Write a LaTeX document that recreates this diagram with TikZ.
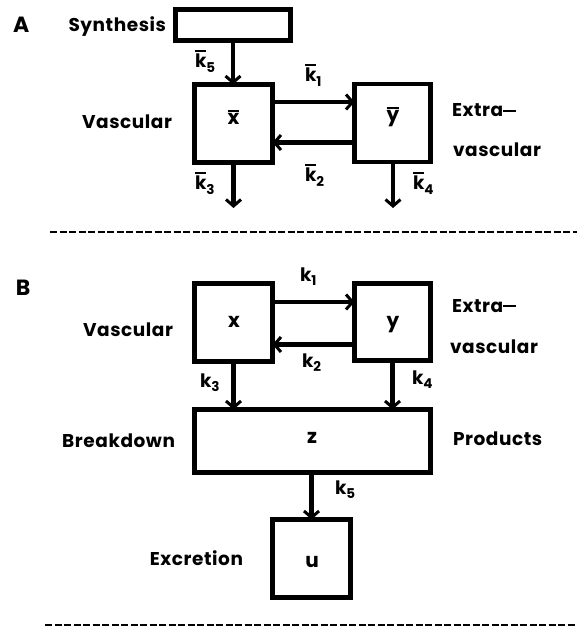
\documentclass[tikz,border=0pt]{standalone}
\usepackage{fontspec}
\setmainfont{Poppins}[LetterSpace=3]
\usetikzlibrary{arrows.meta}

% bar over a symbol
\newcommand\ovbar[1]{\vbox{\hrule height 2pt\kern 2.2pt\hbox{#1}}}
% rate constant with lowered index
\newcommand\rate[2]{#1\raisebox{-4.5pt}{\fontsize{13.5}{13.5}\selectfont #2}}

\begin{document}
\begin{tikzpicture}[x=1pt,y=-1pt,
  every node/.style={font=\fontsize{18.5}{21}\selectfont\bfseries, inner sep=0pt, outer sep=0pt},
  frame/.style={draw, line width=4.6pt},
  box/.style={frame, minimum width=78pt, minimum height=78pt},
  arr/.style={line width=4.2pt, -{Straight Barb[length=6.5pt,width=15pt,line width=3pt]}},
  sep/.style={line width=2.6pt, dash pattern=on 7pt off 2.5pt},
  panel/.style={font=\fontsize{22}{24}\selectfont\bfseries, anchor=base west},
  lbl/.style={anchor=base east},
  side/.style={anchor=base west},
  sym/.style={anchor=base, font=\fontsize{20}{22}\selectfont\bfseries}]
\useasboundingbox (0,0) rectangle (577,628);

% ---------------- A: with synthesis ----------------
\node[panel] (pA) at (13,33) {A};
\node[lbl] (tsyn) at (166,32) {Synthesis};
\node[frame, minimum width=115pt, minimum height=31pt] (syn) at (233,25) {};

\node[box] (xa) at (233.5,123.5) {};
\node[box, minimum width=76pt] (ya) at (392.5,123) {};
\node[sym] (xal) at (233.5,125) {\ovbar{x}};
\node[sym] (yal) at (393,122) {\ovbar{y}};

\node[lbl] (vasA) at (172,129) {Vascular};
\node[side] (exA1) at (452,117) {Extra\rule[0.28em]{0.7em}{1.8pt}};
\node[side] (exA2) at (453,157) {vascular};

\draw[arr] (syn.south) -- (syn.south |- xa.north);
\node[anchor=base west] (ka5) at (195,68) {\rate{\ovbar{k}}{5}};

\draw[arr] ([yshift=21.5pt]xa.east) -- ([yshift=21.5pt]xa.east -| ya.west);
\draw[arr] ([yshift=-19.5pt]ya.west) -- ([yshift=-19.5pt]ya.west -| xa.east);
\node[anchor=base west] (ka1) at (305,82) {\rate{\ovbar{k}}{1}};
\node[anchor=base west] (ka2) at (305,182) {\rate{\ovbar{k}}{2}};

\coordinate (outA3) at (233.5,208);
\coordinate (outA4) at (393,208);
\draw[arr] (xa.south) -- (outA3);
\draw[arr] (ya.south -| outA4) -- (outA4);
\node[anchor=base west] (ka3) at (195,190) {\rate{\ovbar{k}}{3}};
\node[anchor=base west] (ka4) at (413,190) {\rate{\ovbar{k}}{4}};

\coordinate (sepA1) at (50,232);
\coordinate (sepA2) at (577,232);
\draw[sep] (sepA1) -- (sepA2);

% ---------------- B: with breakdown and excretion ----------------
\node[panel] (pB) at (16,295) {B};

\node[box] (xb) at (233.5,322.5) {};
\node[box, minimum width=76pt, minimum height=77pt] (yb) at (392.5,322) {};
\node[sym] (xbl) at (234,327) {x};
\node[sym] (ybl) at (393,327) {y};

\node[lbl] (vasB) at (173,336) {Vascular};
\node[side] (exB1) at (452,312) {Extra\rule[0.28em]{0.7em}{1.8pt}};
\node[side] (exB2) at (450,353) {vascular};

\draw[arr] ([yshift=20.5pt]xb.east) -- ([yshift=20.5pt]xb.east -| yb.west);
\draw[arr] ([yshift=-22.5pt]yb.west) -- ([yshift=-22.5pt]yb.west -| xb.east);
\node[anchor=base west] (kb1) at (300,281) {\rate{k}{1}};
\node[anchor=base west] (kb2) at (302,367) {\rate{k}{2}};

\node[frame, minimum width=236pt, minimum height=63pt] (zb) at (312.5,441) {};
\node[sym] (zbl) at (312,443) {z};
\node[lbl] (brk) at (175,447) {Breakdown};
\node[side] (prd) at (453,445) {Products};

\draw[arr] (xb.south) -- (xb.south |- zb.north);
\draw[arr] (yb.south) -- (yb.south |- zb.north);
\node[anchor=base west] (kb3) at (200,387) {\rate{k}{3}};
\node[anchor=base west] (kb4) at (412,384) {\rate{k}{4}};

\node[box] (ub) at (311.5,558.5) {};
\node[sym] (ubl) at (312,567) {u};
\node[lbl] (exc) at (243,565) {Excretion};
\draw[arr] (ub.north |- zb.south) -- (ub.north);
\node[anchor=base west] (kb5) at (335,494) {\rate{k}{5}};

\coordinate (sepB1) at (45,625);
\coordinate (sepB2) at (577,625);
\draw[sep] (sepB1) -- (sepB2);
\end{tikzpicture}
\end{document}
